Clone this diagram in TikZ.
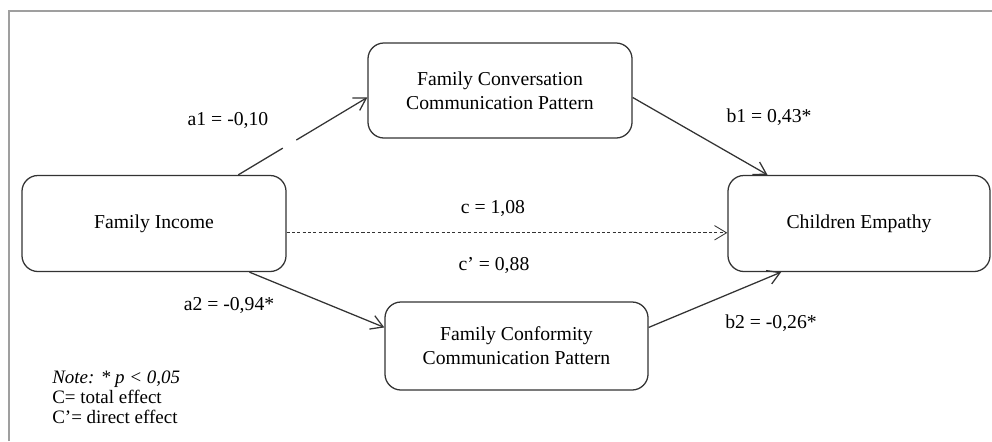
\documentclass[tikz,border=0pt]{standalone}
\usepackage{fontspec}
\setmainfont{Liberation Serif}
\usetikzlibrary{arrows.meta,positioning,calc}
\begin{document}
\begin{tikzpicture}[x=0.025cm,y=-0.025cm,
  box/.style={draw=black!80,line width=0.9pt,rounded corners=0.4cm,align=center,
    minimum width=6.6cm,minimum height=2.4cm,font=\fontsize{14}{17}\selectfont},
  path/.style={draw=black!80,line width=0.9pt,-{Straight Barb[length=3mm,width=3.6mm]}},
  coef/.style={font=\fontsize{14}{17}\selectfont}]
\useasboundingbox (0,0) rectangle (992,441);
\draw[gray!75,line width=2pt] (9,441)--(9,11)--(992,11);
% variables
\node[box] (inc)  at (154,223.5) {Family Income};
\node[box,minimum height=2.375cm] (con)  at (500,90.5) {Family Conversation\\Communication Pattern};
\node[box,minimum width=6.575cm,minimum height=2.2cm] (conf) at (516.5,346) {Family Conformity\\Communication Pattern};
\node[box,minimum width=6.55cm] (emp)  at (859,223.5) {Children Empathy};
% paths
\coordinate (a1s) at (inc.30);
\coordinate (a1e) at (con.183);
\draw[draw=black!80,line width=0.9pt] (a1s) -- ($(a1s)!0.345!(a1e)$);
\draw[path] ($(a1s)!0.45!(a1e)$) -- (a1e);
\draw[path] (inc.-27) -- (conf.172);
\draw[path] (con.-3) -- (emp.152);
\draw[path] (conf.8) -- (emp.212);
\draw[path,line width=0.6pt,dash pattern=on 2.2pt off 1.6pt] (inc.-4) -- (inc.-4 -| emp.west);
% coefficients
\node[coef] (la1) at (228,120) {a1 = -0,10};
\node[coef] (la2) at (229,305) {a2 = -0,94*};
\node[coef] (lb1) at (769,117) {b1 = 0,43*};
\node[coef] (lb2) at (771,323) {b2 = -0,26*};
\node[coef] (lc)  at (493,208) {c = 1,08};
\node[coef] (lcp) at (494,265) {c’ = 0,88};
% note
\node[anchor=west,align=left,inner sep=0pt,font=\fontsize{13.5}{14.3}\selectfont] (note) at (52,397)
  {\textit{Note: * p < 0,05}\\C= total effect\\C’= direct effect};
\end{tikzpicture}
\end{document}
